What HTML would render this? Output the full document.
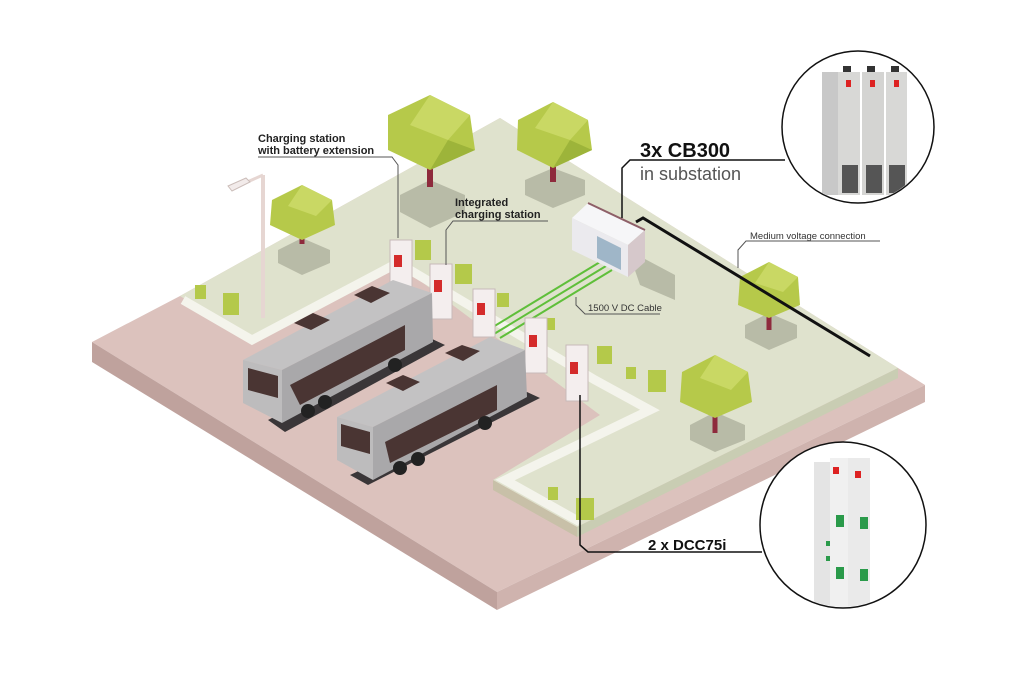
<!DOCTYPE html>
<html><head><meta charset="utf-8"><style>
html,body{margin:0;padding:0;background:#fff;}
svg{display:block;font-family:"Liberation Sans",sans-serif;}
</style></head><body>
<svg width="1024" height="683" viewBox="0 0 1024 683" xmlns="http://www.w3.org/2000/svg">
<defs><clipPath id="c2"><circle cx="843" cy="525" r="82"/></clipPath><clipPath id="c1"><circle cx="858" cy="127" r="75"/></clipPath></defs>
<!-- slab -->
<polygon points="92,342 180,296 500,118 898,368 925,385 497,592" fill="#dcc2bd"/>
<polygon points="92,342 497,592 497,610 92,362" fill="#bfa29d"/>
<polygon points="497,592 925,385 925,402 497,610" fill="#cfb3ae"/>
<!-- green area -->
<polygon points="180,296 500,118 898,368 577,527 493,480 600,415 395,262 250,338" fill="#dfe2cd"/>
<polygon points="898,368 898,378 577,537 577,527" fill="#c9cdb3"/>
<polygon points="493,480 577,527 577,537 493,490" fill="#c8c0a8"/>
<!-- white paths -->
<polyline points="183,300 252,340 392,266" fill="none" stroke="#f4f4ec" stroke-width="9"/>
<polyline points="410,270 595,380 650,410 505,480 580,522" fill="none" stroke="#f4f4ec" stroke-width="9"/>
<!-- tree shadows -->
<g fill="#b8bba7">
<polygon points="400,195 430,180 465,195 465,212 430,228 400,212"/>
<polygon points="525,180 553,168 585,180 585,195 553,208 525,195"/>
<polygon points="278,250 302,238 330,250 330,263 302,275 278,263"/>
<polygon points="745,325 769,313 797,325 797,338 769,350 745,338"/>
<polygon points="690,425 715,412 745,425 745,440 715,452 690,440"/>
<polygon points="628,250 675,275 675,300 640,285"/>
</g>
<!-- lamp -->
<line x1="263" y1="175" x2="263" y2="318" stroke="#e6d6d2" stroke-width="4"/>
<line x1="263" y1="175" x2="245" y2="183" stroke="#e6d6d2" stroke-width="3"/>
<polygon points="228,186 246,178 250,182 232,191" fill="#f2ebea" stroke="#cbbdb9"/>
<!-- trees -->
<g>
<line x1="430" y1="150" x2="430" y2="187" stroke="#8e2a3c" stroke-width="6"/>
<polygon points="430,95 470,115 475,150 430,170 388,150 388,115" fill="#b6c94a"/>
<polygon points="430,95 470,115 448,140 410,125" fill="#c9d864"/>
<polygon points="448,140 475,150 430,170" fill="#9db43a"/>
<line x1="553" y1="150" x2="553" y2="182" stroke="#8e2a3c" stroke-width="6"/>
<polygon points="553,102 588,120 592,150 553,168 517,150 518,120" fill="#b6c94a"/>
<polygon points="553,102 588,120 570,140 535,128" fill="#c9d864"/>
<polygon points="570,140 592,150 553,168" fill="#9db43a"/>
<line x1="302" y1="225" x2="302" y2="244" stroke="#8e2a3c" stroke-width="5"/>
<polygon points="302,185 332,200 335,225 302,240 270,225 272,200" fill="#b6c94a"/>
<polygon points="302,185 332,200 316,216 288,206" fill="#c9d864"/>
<line x1="769" y1="305" x2="769" y2="330" stroke="#8e2a3c" stroke-width="5"/>
<polygon points="769,262 798,277 800,305 769,318 738,305 740,277" fill="#b6c94a"/>
<polygon points="769,262 798,277 783,292 755,283" fill="#c9d864"/>
<line x1="715" y1="405" x2="715" y2="433" stroke="#8e2a3c" stroke-width="5"/>
<polygon points="715,355 748,372 752,402 715,418 680,402 682,372" fill="#b6c94a"/>
<polygon points="715,355 748,372 731,390 700,378" fill="#c9d864"/>
</g>
<!-- small bushes -->
<g fill="#b4c94a">
<rect x="415" y="240" width="16" height="20"/><rect x="455" y="264" width="17" height="20"/>
<rect x="497" y="293" width="12" height="14"/><rect x="545" y="318" width="10" height="12"/>
<rect x="597" y="346" width="15" height="18"/><rect x="626" y="367" width="10" height="12"/>
<rect x="648" y="370" width="18" height="22"/><rect x="195" y="285" width="11" height="14"/>
<rect x="223" y="293" width="16" height="22"/><rect x="548" y="487" width="10" height="13"/>
<rect x="576" y="498" width="18" height="22"/>
</g>
<!-- DC cables -->
<g stroke="#5fbf3a" stroke-width="2">
<line x1="600" y1="262" x2="488" y2="330"/><line x1="606" y1="266" x2="494" y2="334"/><line x1="612" y1="270" x2="500" y2="338"/>
</g>
<!-- substation -->
<polygon points="572,218 588,203 645,230 628,245" fill="#f6f6f8"/>
<polygon points="572,218 628,245 628,277 572,250" fill="#ebeaee"/>
<polygon points="628,245 645,230 645,262 628,277" fill="#d6c8cb"/>
<line x1="588" y1="203" x2="645" y2="230" stroke="#8e5f68" stroke-width="2"/>
<polygon points="597,236 621,248 621,270 597,258" fill="#9fb6c8"/>
<!-- MV line -->
<polyline points="636,222 643,218 870,356" fill="none" stroke="#111" stroke-width="3"/>
<!-- chargers -->
<g>
<rect x="390" y="240" width="22" height="50" fill="#f4eeee" stroke="#c7b9b9"/><rect x="394" y="255" width="8" height="12" fill="#d42b2b"/>
<rect x="430" y="264" width="22" height="55" fill="#f4eeee" stroke="#c7b9b9"/><rect x="434" y="280" width="8" height="12" fill="#d42b2b"/>
<rect x="473" y="289" width="22" height="48" fill="#f4eeee" stroke="#c7b9b9"/><rect x="477" y="303" width="8" height="12" fill="#d42b2b"/>
<rect x="525" y="318" width="22" height="55" fill="#f4eeee" stroke="#c7b9b9"/><rect x="529" y="335" width="8" height="12" fill="#d42b2b"/>
<rect x="566" y="345" width="22" height="56" fill="#f4eeee" stroke="#c7b9b9"/><rect x="570" y="362" width="8" height="12" fill="#d42b2b"/>
</g>
<!-- bus 1 -->
<polygon points="268,420 430,338 445,345 285,432" fill="#3a3638"/>
<polygon points="243,360 393,280 432,293 282,370" fill="#c3c2c3"/>
<polygon points="282,370 432,293 433,342 282,423" fill="#a9a8aa"/>
<polygon points="243,360 282,370 282,423 243,403" fill="#bdbcbd"/>
<polygon points="290,385 405,325 405,350 300,405" fill="#4a3533"/>
<polygon points="248,368 278,376 278,398 248,390" fill="#4a3533"/>
<polygon points="294,323 313,313 330,320 311,330" fill="#4a3533"/>
<polygon points="354,295 372,286 390,293 371,303" fill="#4a3533"/>
<circle cx="308" cy="411" r="7" fill="#222"/><circle cx="325" cy="402" r="7" fill="#222"/><circle cx="395" cy="365" r="7" fill="#222"/>
<!-- bus 2 -->
<polygon points="350,475 527,392 540,398 368,485" fill="#3a3638"/>
<polygon points="337,417 490,337 525,350 373,427" fill="#c3c2c3"/>
<polygon points="373,427 525,350 527,397 373,480" fill="#a9a8aa"/>
<polygon points="337,417 373,427 373,480 337,460" fill="#bdbcbd"/>
<polygon points="385,442 497,385 497,410 390,463" fill="#4a3533"/>
<polygon points="341,424 370,432 370,454 341,446" fill="#4a3533"/>
<polygon points="386,383 403,375 420,382 403,391" fill="#4a3533"/>
<polygon points="445,353 462,345 480,351 463,361" fill="#4a3533"/>
<circle cx="400" cy="468" r="7" fill="#222"/><circle cx="418" cy="459" r="7" fill="#222"/><circle cx="485" cy="423" r="7" fill="#222"/>
<!-- leaders -->
<g fill="none" stroke="#555" stroke-width="1">
<polyline points="258,157 392,157 398,165 398,238"/>
<polyline points="548,221 453,221 446,230 446,265"/>
<polyline points="880,241 746,241 738,250 738,268"/>
<polyline points="660,314 585,314 576,305 576,297"/>
</g>
<polyline points="622,218 622,168 630,160 785,160" fill="none" stroke="#111" stroke-width="1.5"/>
<polyline points="580,395 580,545 588,552 762,552" fill="none" stroke="#111" stroke-width="1.5"/>
<!-- text -->
<text x="258" y="142" font-size="11" font-weight="bold" fill="#222">Charging station</text>
<text x="258" y="154" font-size="11" font-weight="bold" fill="#222">with battery extension</text>
<text x="455" y="206" font-size="11" font-weight="bold" fill="#222">Integrated</text>
<text x="455" y="218" font-size="11" font-weight="bold" fill="#222">charging station</text>
<text x="640" y="157" font-size="20" font-weight="bold" fill="#111">3x CB300</text>
<text x="640" y="180" font-size="18" fill="#555">in substation</text>
<text x="750" y="239" font-size="9.5" fill="#333">Medium voltage connection</text>
<text x="588" y="311" font-size="9.5" fill="#333">1500 V DC Cable</text>
<text x="648" y="550" font-size="15" font-weight="bold" fill="#111">2 x DCC75i</text>
<!-- circles -->
<circle cx="858" cy="127" r="76" fill="#fff" stroke="#111" stroke-width="1.5"/>
<g clip-path="url(#c1)">
<rect x="822" y="72" width="20" height="123" fill="#c8c8c8"/>
<rect x="838" y="72" width="22" height="123" fill="#d8d8d6"/>
<rect x="862" y="72" width="22" height="123" fill="#d4d4d2"/>
<rect x="886" y="72" width="21" height="123" fill="#d8d8d6"/>
<rect x="843" y="66" width="8" height="6" fill="#333"/><rect x="867" y="66" width="8" height="6" fill="#333"/><rect x="891" y="66" width="8" height="6" fill="#333"/>
<rect x="846" y="80" width="5" height="7" fill="#d22"/><rect x="870" y="80" width="5" height="7" fill="#d22"/><rect x="894" y="80" width="5" height="7" fill="#d22"/>
<rect x="842" y="165" width="16" height="28" fill="#555"/><rect x="866" y="165" width="16" height="28" fill="#555"/><rect x="889" y="165" width="16" height="28" fill="#555"/>
</g>
<circle cx="843" cy="525" r="83" fill="#fff" stroke="#111" stroke-width="1.5"/>
<g clip-path="url(#c2)">
<rect x="814" y="462" width="20" height="165" fill="#e4e4e4"/>
<rect x="830" y="458" width="22" height="168" fill="#f0f0f0"/>
<rect x="848" y="458" width="22" height="168" fill="#eaeaea"/>
<rect x="833" y="467" width="6" height="7" fill="#d22"/><rect x="855" y="471" width="6" height="7" fill="#d22"/>
<rect x="836" y="515" width="8" height="12" fill="#2a9a4a"/><rect x="860" y="517" width="8" height="12" fill="#2a9a4a"/>
<rect x="836" y="567" width="8" height="12" fill="#2a9a4a"/><rect x="860" y="569" width="8" height="12" fill="#2a9a4a"/>
<rect x="826" y="541" width="4" height="5" fill="#2a9a4a"/><rect x="826" y="556" width="4" height="5" fill="#2a9a4a"/>
</g>
</svg>
</body></html>
